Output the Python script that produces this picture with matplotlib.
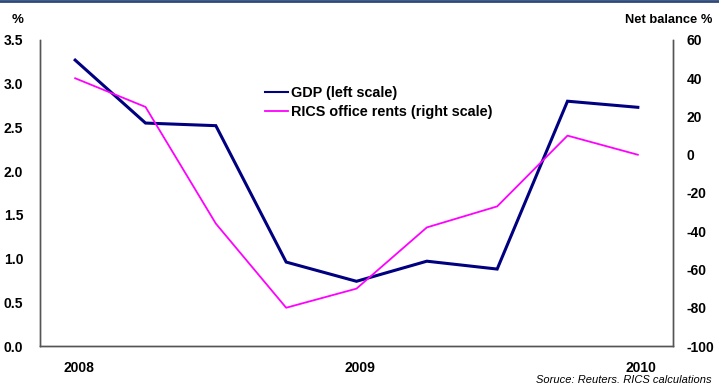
#!/usr/bin/env python3
"""GDP vs RICS office rents, dual-axis line chart."""

import matplotlib
matplotlib.use("Agg")
import matplotlib.pyplot as plt  # noqa: E402
from matplotlib.lines import Line2D  # noqa: E402

plt.rcParams["font.family"] = ["Liberation Sans", "DejaVu Sans"]
plt.rcParams["axes.unicode_minus"] = False

quarters = ["2008 Q1", "2008 Q2", "2008 Q3", "2008 Q4",
            "2009 Q1", "2009 Q2", "2009 Q3", "2009 Q4", "2010 Q1"]
gdp = [3.27, 2.55, 2.52, 0.96, 0.74, 0.97, 0.88, 2.80, 2.73]
rics_rents = [40, 25, -36, -80, -70, -38, -27, 10, 0]
year_labels = {"2008 Q1": "2008", "2009 Q1": "2009", "2010 Q1": "2010"}


def main():
    fig = plt.figure(figsize=(7.19, 3.85), dpi=100)
    ax = fig.add_axes([40 / 719, 39 / 385, 633 / 719, 306 / 385])
    ax2 = ax.twinx()

    x = list(range(len(quarters)))
    ax.plot(x, gdp, color="#000080", lw=2.2, solid_joinstyle="miter")
    ax2.plot(x, rics_rents, color="#FF00FF", lw=1.3)

    ax.set_xlim(-0.5, len(quarters) - 0.5)
    ax.set_ylim(0, 3.5)
    ax2.set_ylim(-100, 60)
    ax.set_yticks([i * 0.5 for i in range(8)])
    ax.set_yticklabels([f"{i * 0.5:.1f}" for i in range(8)])
    ax2.set_yticks(range(-100, 61, 20))

    ticks = [i for i, q in enumerate(quarters) if q in year_labels]
    ax.set_xticks([t + 0.05 for t in ticks])
    ax.set_xticklabels([year_labels[quarters[i]] for i in ticks])

    for a in (ax, ax2):
        a.spines["top"].set_visible(False)
        for s in a.spines.values():
            s.set_color("#555555")
            s.set_linewidth(1.0)
        a.tick_params(length=0, labelsize=10)
        for lbl in a.get_xticklabels() + a.get_yticklabels():
            lbl.set_fontweight("bold")
    ax.tick_params(axis="y", pad=12)
    ax2.tick_params(axis="y", pad=10)
    ax.tick_params(axis="x", pad=11)

    fig.text(12 / 719, 1 - 20 / 385, "%", fontsize=9.5, fontweight="bold",
             ha="left", va="center")
    fig.text(712 / 719, 1 - 20 / 385, "Net balance %", fontsize=9.3,
             fontweight="bold", ha="right", va="center")
    fig.text(712 / 719, 1 - 380 / 385, "Soruce: Reuters. RICS calculations",
             fontsize=8, style="italic", ha="right", va="center")

    handles = [Line2D([], [], color="#000080", lw=1.5),
               Line2D([], [], color="#FF00FF", lw=1.3)]
    ax.legend(handles, ["GDP (left scale)", "RICS office rents (right scale)"],
              loc="upper left", bbox_to_anchor=(219 / 633, 1 - 40 / 306),
              frameon=False, handlelength=1.6, handletextpad=0.2,
              labelspacing=0.35, borderaxespad=0,
              prop={"weight": "bold", "size": 10.4})

    # dark rule along the top edge
    fig.add_artist(Line2D([0, 1], [1 - 1 / 385, 1 - 1 / 385],
                          transform=fig.transFigure, color="#2E4A7A", lw=2))

    fig.savefig("out.png", dpi=100)


if __name__ == "__main__":
    main()
